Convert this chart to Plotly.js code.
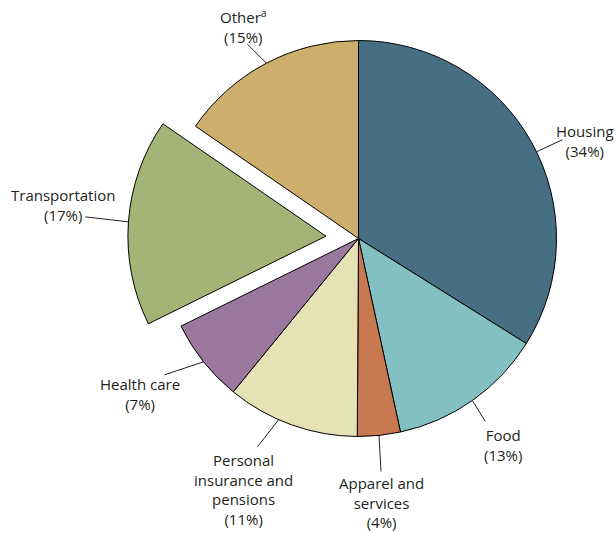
<!DOCTYPE html>
<html>
<head>
<meta charset="utf-8">
<script src="https://cdn.plot.ly/plotly-3.0.1.min.js"></script>
<style>html,body{margin:0;padding:0;background:#fff;}#chart{width:616px;height:533px;}</style>
</head>
<body>
<div id="chart"></div>
<script>
// ---- data ----
const categories = ["Housing", "Food", "Apparel and<br>services", "Personal<br>insurance and<br>pensions", "Health care", "Transportation", "Other<sup>a</sup>"];
const shares = [33.9, 12.7, 3.5, 10.8, 6.8, 16.9, 15.4];
const pulls = [0, 0, 0, 0, 0, 0.165, 0];
const colors = ["#476f84", "#83c0c1", "#c87952", "#e5e2b6", "#9a789e", "#a3b476", "#cdae6d"];

// ---- label placement (style): angle nudge (deg), line end offset (px), text centre offset (px) ----
const labelStyle = [
  {nudge: 3,  line: [26, -12], text: [49, -11]},
  {nudge: 0,  line: [13, 21],  text: [31, 45]},
  {nudge: 0,  line: [2, 36],   text: [3, 67]},
  {nudge: 4,  line: [-21, 27], text: [-35, 70]},
  {nudge: 0,  line: [-39, 13], text: [-64, 32]},
  {nudge: 0,  line: [-43, -5], text: [-65, -17]},
  {nudge: 0,  line: [-19, -19], text: [-23, -37]}
];

const W = 616, H = 533;
const cx = 358.5, cy = 238.5, R = 198;
const maxPull = Math.max(...pulls);
const half = R * (1 + maxPull);
const dom = {
  x: [(cx - 240) / W, (cx + 240) / W],
  y: [1 - (cy + half) / H, 1 - (cy - half) / H]
};

const total = shares.reduce((a, b) => a + b, 0);
const shapes = [], annotations = [];
let cum = 0;
const px2x = p => p / W, py2y = p => 1 - p / H;
shares.forEach((v, i) => {
  const mid = (cum + v / 2) / total * 360;
  cum += v;
  const th = (mid + labelStyle[i].nudge) * Math.PI / 180;
  const thMid = mid * Math.PI / 180;
  const ox = cx + pulls[i] * R * Math.sin(thMid);
  const oy = cy - pulls[i] * R * Math.cos(thMid);
  const ex = ox + R * Math.sin(th), ey = oy - R * Math.cos(th);
  const s = labelStyle[i];
  shapes.push({type: "line", xref: "paper", yref: "paper",
    x0: px2x(ex), y0: py2y(ey), x1: px2x(ex + s.line[0]), y1: py2y(ey + s.line[1]),
    line: {color: "#231f20", width: 1}});
  const pct = Math.round(v / total * 100);
  annotations.push({xref: "paper", yref: "paper", x: px2x(ex + s.text[0]), y: py2y(ey + s.text[1]),
    xanchor: "center", yanchor: "middle", showarrow: false, align: "center",
    text: categories[i] + "<br>(" + pct + "%)",
    font: {family: "Open Sans, sans-serif", size: 15, color: "#231f20"}});
});

const trace = {
  type: "pie",
  labels: categories,
  values: shares,
  pull: pulls,
  sort: false,
  direction: "clockwise",
  rotation: 0,
  textinfo: "none",
  hoverinfo: "none",
  marker: {colors: colors, line: {color: "#000", width: 1}},
  domain: dom
};

Plotly.newPlot("chart", [trace], {
  width: W, height: H,
  margin: {l: 0, r: 0, t: 0, b: 0},
  showlegend: false,
  paper_bgcolor: "#fff",
  shapes: shapes,
  annotations: annotations
}, {staticPlot: true});
</script>
</body>
</html>
